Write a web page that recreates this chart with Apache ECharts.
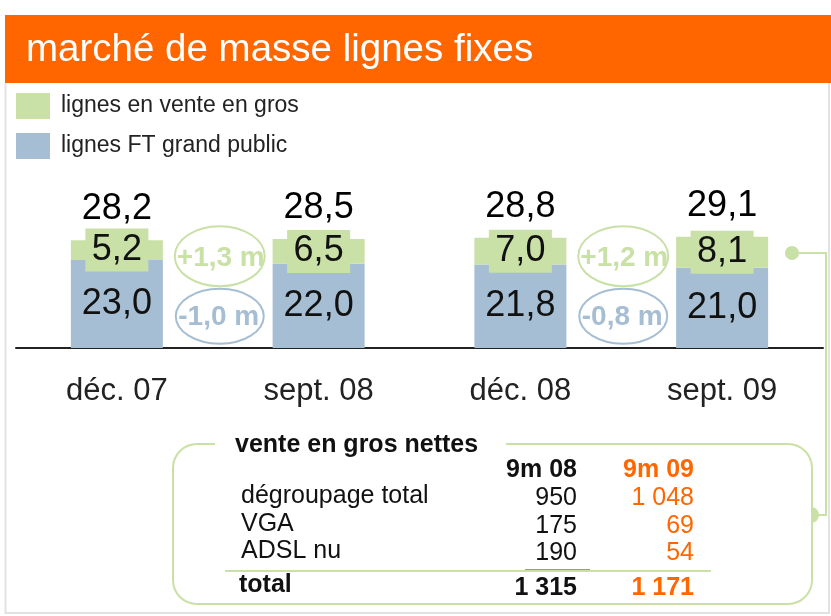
<!DOCTYPE html>
<html>
<head>
<meta charset="utf-8">
<script src="https://cdn.jsdelivr.net/npm/echarts@6/dist/echarts.min.js"></script>
<style>
  html, body { margin: 0; padding: 0; background: #fff; }
  #chart { width: 831px; height: 616px; }
</style>
</head>
<body>
<div id="chart"></div>
<script>
// données
const categories = ['déc. 07', 'sept. 08', 'déc. 08', 'sept. 09']
const retailLines = [23.0, 22.0, 21.8, 21.0] // lignes FT grand public
const wholesaleLines = [5.2, 6.5, 7.0, 8.1] // lignes en vente en gros
const totalLines = [28.2, 28.5, 28.8, 29.1]
const wholesaleDeltas = ['+1,3 m', '+1,2 m']
const retailDeltas = ['-1,0 m', '-0,8 m']
const deltaPairs = [[0, 1], [2, 3]]

const tableTitle = 'vente en gros nettes'
const tableHeads = ['9m 08', '9m 09']
const tableRows = ['dégroupage total', 'VGA', 'ADSL nu']
const net9m08 = [950, 175, 190]
const net9m09 = [1048, 69, 54]
const tableTotals = [1315, 1171]

const ORANGE = '#ff6600'
const GREEN = '#c9e0a6'
const BLUE = '#a6bed3'
const FONT = '"Liberation Sans", Arial, Helvetica, sans-serif'

const fr1 = v => v.toFixed(1).replace('.', ',')
const frInt = n => String(n).replace(/\B(?=(\d{3})+(?!\d))/g, ' ')

const chart = echarts.init(document.getElementById('chart'))

const option = {
  animation: false,
  textStyle: { fontFamily: FONT },
  legend: {
    data: ['lignes en vente en gros', 'lignes FT grand public'],
    orient: 'vertical',
    left: 16,
    top: 93,
    padding: 0,
    itemWidth: 34,
    itemHeight: 26,
    itemGap: 14,
    icon: 'rect',
    selectedMode: false,
    textStyle: { fontSize: 23, color: '#222', fontFamily: FONT, padding: [0, 0, 0, 6] }
  },
  grid: { left: 16, right: 8, top: 195, bottom: 268 },
  xAxis: {
    type: 'category',
    data: categories,
    axisTick: { show: false },
    axisLine: { lineStyle: { color: '#222', width: 2 } },
    axisLabel: { fontSize: 31, color: '#222', margin: 28, fontFamily: FONT }
  },
  yAxis: {
    type: 'value',
    min: 0,
    max: 40,
    show: false,
    splitLine: { show: false }
  },
  series: [
    {
      name: 'lignes FT grand public',
      type: 'bar',
      stack: 'lignes',
      barWidth: 92,
      data: retailLines,
      itemStyle: { color: BLUE },
      label: {
        show: true,
        position: 'inside',
        fontSize: 36,
        color: '#111',
        fontFamily: FONT,
        formatter: p => fr1(p.value)
      }
    },
    {
      name: 'lignes en vente en gros',
      type: 'bar',
      stack: 'lignes',
      barWidth: 92,
      data: wholesaleLines,
      itemStyle: { color: GREEN },
      label: {
        show: true,
        position: 'inside',
        fontSize: 36,
        color: '#111',
        fontFamily: FONT,
        backgroundColor: GREEN,
        width: 63,
        height: 43,
        lineHeight: 43,
        align: 'center',
        formatter: p => fr1(p.value)
      }
    },
    {
      name: 'total',
      type: 'scatter',
      data: totalLines,
      symbolSize: 0,
      silent: true,
      itemStyle: { opacity: 1 },
      label: {
        show: true,
        position: 'top',
        distance: 13,
        fontSize: 36,
        color: '#000',
        fontFamily: FONT,
        formatter: p => fr1(p.value)
      }
    }
  ]
}

chart.setOption(option)

// éléments graphiques (titre, cadre, ellipses, tableau)
const g = []

// cadre gris
g.push({ type: 'polyline', silent: true, shape: { points: [[5.5, 83], [5.5, 613], [829, 613], [829, 83]] },
  style: { stroke: '#e2e2e2', lineWidth: 2, fill: null } })

// bandeau titre
g.push({ type: 'rect', shape: { x: 5, y: 15, width: 826, height: 68 }, style: { fill: ORANGE } })
g.push({ type: 'text', x: 26, y: 50, style: { text: 'marché de masse lignes fixes', fill: '#fff',
  font: '38.5px ' + FONT, verticalAlign: 'middle' } })

// ellipses de variation
deltaPairs.forEach(([a, b], i) => {
  const pa = chart.convertToPixel({ gridIndex: 0 }, [a, 24])
  const pb = chart.convertToPixel({ gridIndex: 0 }, [b, 24])
  const cx = (pa[0] + pb[0]) / 2 + 2
  const cyG = pa[1]
  const cyB = chart.convertToPixel({ gridIndex: 0 }, [a, 8.3])[1]
  g.push({ type: 'ellipse', shape: { cx: cx, cy: cyG, rx: 45, ry: 30 }, style: { fill: null, stroke: GREEN, lineWidth: 2 } })
  g.push({ type: 'ellipse', shape: { cx: cx, cy: cyB, rx: 44, ry: 27.5 }, style: { fill: null, stroke: BLUE, lineWidth: 2 } })
  g.push({ type: 'text', x: cx + 1, y: cyG + 2, style: { text: wholesaleDeltas[i], fill: GREEN,
    font: 'bold 28px ' + FONT, align: 'center', verticalAlign: 'middle' } })
  g.push({ type: 'text', x: cx - 1, y: cyB + 1, style: { text: retailDeltas[i], fill: BLUE,
    font: 'bold 28px ' + FONT, align: 'center', verticalAlign: 'middle' } })
})

// connecteur vers le tableau
g.push({ type: 'polyline', shape: { points: [[792, 253], [826, 253], [826, 515], [811, 515]] },
  style: { stroke: GREEN, lineWidth: 2, fill: null } })
g.push({ type: 'circle', shape: { cx: 792, cy: 253, r: 7 }, style: { fill: GREEN } })
g.push({ type: 'circle', shape: { cx: 811, cy: 515, r: 8 }, style: { fill: GREEN } })

// tableau
g.push({ type: 'rect', shape: { x: 173, y: 444, width: 639, height: 160, r: 24 },
  style: { fill: '#fff', stroke: GREEN, lineWidth: 2 } })
g.push({ type: 'rect', shape: { x: 215, y: 438, width: 291, height: 12 }, style: { fill: '#fff' } })
g.push({ type: 'text', x: 235, y: 445, style: { text: tableTitle, fill: '#111',
  font: 'bold 25px ' + FONT, verticalAlign: 'middle' } })

const colX = [577, 694]
const colColor = ['#111', ORANGE]
tableHeads.forEach((h, c) => {
  g.push({ type: 'text', x: colX[c], y: 470, style: { text: h, fill: colColor[c],
    font: 'bold 25px ' + FONT, align: 'right', verticalAlign: 'middle' } })
})
const rowY = [498, 526, 553]
tableRows.forEach((r, i) => {
  g.push({ type: 'text', x: 241, y: rowY[i] - 2, style: { text: r, fill: '#111',
    font: '25px ' + FONT, verticalAlign: 'middle' } })
  ;[net9m08, net9m09].forEach((col, c) => {
    g.push({ type: 'text', x: colX[c], y: rowY[i], style: { text: frInt(col[i]), fill: colColor[c],
      font: '25px ' + FONT, align: 'right', verticalAlign: 'middle' } })
  })
})
g.push({ type: 'line', shape: { x1: 525, y1: 569.5, x2: 590, y2: 569.5 }, style: { stroke: '#999', lineWidth: 1 } })
g.push({ type: 'line', shape: { x1: 225, y1: 571, x2: 711, y2: 571 }, style: { stroke: GREEN, lineWidth: 2 } })
g.push({ type: 'text', x: 239, y: 585, style: { text: 'total', fill: '#111',
  font: 'bold 25px ' + FONT, verticalAlign: 'middle' } })
tableTotals.forEach((t, c) => {
  g.push({ type: 'text', x: colX[c], y: 588, style: { text: frInt(t), fill: colColor[c],
    font: 'bold 25px ' + FONT, align: 'right', verticalAlign: 'middle' } })
})

chart.setOption({ graphic: g })
</script>
</body>
</html>
